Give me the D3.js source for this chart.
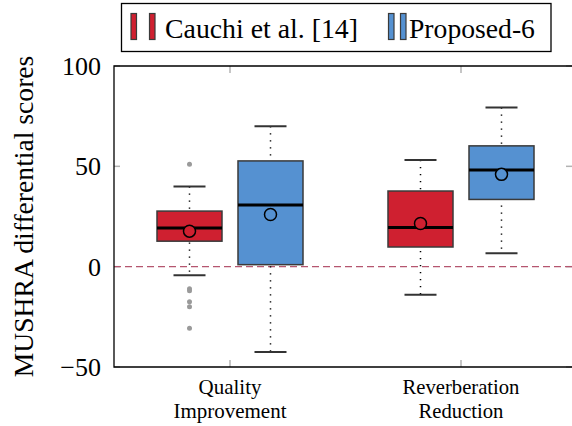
<!DOCTYPE html>
<html><head><meta charset="utf-8">
<script src="https://cdn.jsdelivr.net/npm/d3@7"></script>
<style>body{margin:0;background:#fff}svg{display:block}svg text{font-family:"Liberation Serif",Tinos,"Times New Roman",serif}</style>
</head><body><svg id="c" width="572" height="426"></svg>
<script>
const categories = [["Quality","Improvement"],["Reverberation","Reduction"]];
const seriesNames = ["Cauchi et al. [14]","Proposed-6"];
const seriesColors = ["#cf2030","#5591d1"];
// per series, per category: [whiskerLow, q1, median, q3, whiskerHigh, mean]
const cauchiStats = [[-4.3,12.7,19.3,27.7,40,17.7],[-14,9.8,19.5,37.7,53.2,21.5]];
const proposedStats = [[-42.5,1,30.7,52.7,70,26],[6.7,33.5,48.2,60.2,79.3,46]];
const cauchiOutliers = [[51,-11,-12,-17.5,-20,-30.7],[]];
const proposedOutliers = [[],[]];
const yTicks = [-50,0,50,100];

const FONT = "Liberation Serif";
const svg = d3.select("#c");
const L=114, R=572, T=66, B=367;
const y = d3.scaleLinear().domain([-50,100]).range([B,T]);
const xc = d3.scaleOrdinal().domain([0,1]).range([230,461]);
const off = d3.scaleOrdinal().domain([0,1]).range([-40.5,40.5]);
const bw = 65, capW = 32;

function txt(parent){ return parent.append("text").style("font-family",FONT); }
function fit(sel, target){
  const fs = +sel.attr("font-size"); const w = sel.node().getComputedTextLength();
  if(w>0) sel.attr("font-size", Math.max(fs*0.85, Math.min(fs*1.15, fs*target/w)));
}

yTicks.forEach(t=>{
  svg.append("line").attr("x1",L).attr("x2",L+6).attr("y1",y(t)).attr("y2",y(t)).attr("stroke","#b3b3b3").attr("stroke-width",1.5);
  svg.append("line").attr("x1",R-6).attr("x2",R).attr("y1",y(t)).attr("y2",y(t)).attr("stroke","#b3b3b3").attr("stroke-width",1.5);
  txt(svg).attr("x",101).attr("y",y(t)+9).attr("text-anchor","end").attr("font-size",26).text(t<0?"\u2212"+Math.abs(t):t);
});
const catW = [[null,113],[117,null]];
[0,1].forEach(i=>{
  svg.append("line").attr("x1",xc(i)).attr("x2",xc(i)).attr("y1",T).attr("y2",T+7).attr("stroke","#b3b3b3").attr("stroke-width",1.5);
  svg.append("line").attr("x1",xc(i)).attr("x2",xc(i)).attr("y1",B).attr("y2",B-7).attr("stroke","#b3b3b3").attr("stroke-width",1.5);
  const ts = categories[i].map((s,k)=>txt(svg).attr("text-anchor","middle").attr("font-size",19)
    .attr("x",xc(i)).attr("y",394+k*24).text(s));
  const k = catW[i][0]!=null?0:1;
  fit(ts[k], catW[i][k]);
  ts.forEach(t=>t.attr("font-size", ts[k].attr("font-size")));
});

svg.append("line").attr("x1",L).attr("x2",R).attr("y1",y(0)).attr("y2",y(0))
  .attr("stroke","#b5566f").attr("stroke-width",1.3).attr("stroke-dasharray","7,4");

const allStats=[cauchiStats,proposedStats], allOut=[cauchiOutliers,proposedOutliers];
allStats.forEach((st,s)=>{
  st.forEach((d,i)=>{
    const cx = xc(i)+off(s);
    const [lo,q1,med,q3,hi,mean]=d;
    svg.append("line").attr("x1",cx).attr("x2",cx).attr("y1",y(hi)).attr("y2",y(lo))
      .attr("stroke","#000").attr("stroke-width",1.5).attr("stroke-dasharray","1.3,5.7");
    [lo,hi].forEach(v=>svg.append("line").attr("x1",cx-capW/2).attr("x2",cx+capW/2).attr("y1",y(v)).attr("y2",y(v)).attr("stroke","#333").attr("stroke-width",2));
    svg.append("rect").attr("x",cx-bw/2).attr("y",y(q3)).attr("width",bw).attr("height",y(q1)-y(q3))
      .attr("fill",seriesColors[s]).attr("stroke","#3a3a3a").attr("stroke-width",1.5);
    svg.append("line").attr("x1",cx-bw/2).attr("x2",cx+bw/2).attr("y1",y(med)).attr("y2",y(med)).attr("stroke","#000").attr("stroke-width",3);
    svg.append("circle").attr("cx",cx).attr("cy",y(mean)).attr("r",6).attr("fill",seriesColors[s]).attr("stroke","#000").attr("stroke-width",1.5);
    allOut[s][i].forEach(v=>svg.append("circle").attr("cx",cx).attr("cy",y(v)).attr("r",2.5).attr("fill","#9a9a9a"));
  });
});

svg.append("path").attr("d",`M${R},${T}H${L}V${B}H${R}`).attr("fill","none").attr("stroke","#000").attr("stroke-width",1.3);

const yl = txt(svg).attr("transform",`translate(33,216.5) rotate(-90)`).attr("text-anchor","middle").attr("font-size",26).text("MUSHRA differential scores");
fit(yl, 322);

svg.append("rect").attr("x",121.5).attr("y",3.5).attr("width",429.5).attr("height",48).attr("fill","#fff").attr("stroke","#000").attr("stroke-width",1.3);
const legRects=[[131,149.5],[388.5,400.5]];
const legTextX=[165,409], legTextW=[193,126];
seriesNames.forEach((n,s)=>{
  legRects[s].forEach(rx=>svg.append("rect").attr("x",rx).attr("y",13.5).attr("width",5.5).attr("height",26).attr("fill",seriesColors[s]).attr("stroke","#3a3a3a").attr("stroke-width",1.2));
  const t = txt(svg).attr("x",legTextX[s]).attr("y",38).attr("font-size",27).text(n);
  fit(t, legTextW[s]);
});
</script></body></html>
